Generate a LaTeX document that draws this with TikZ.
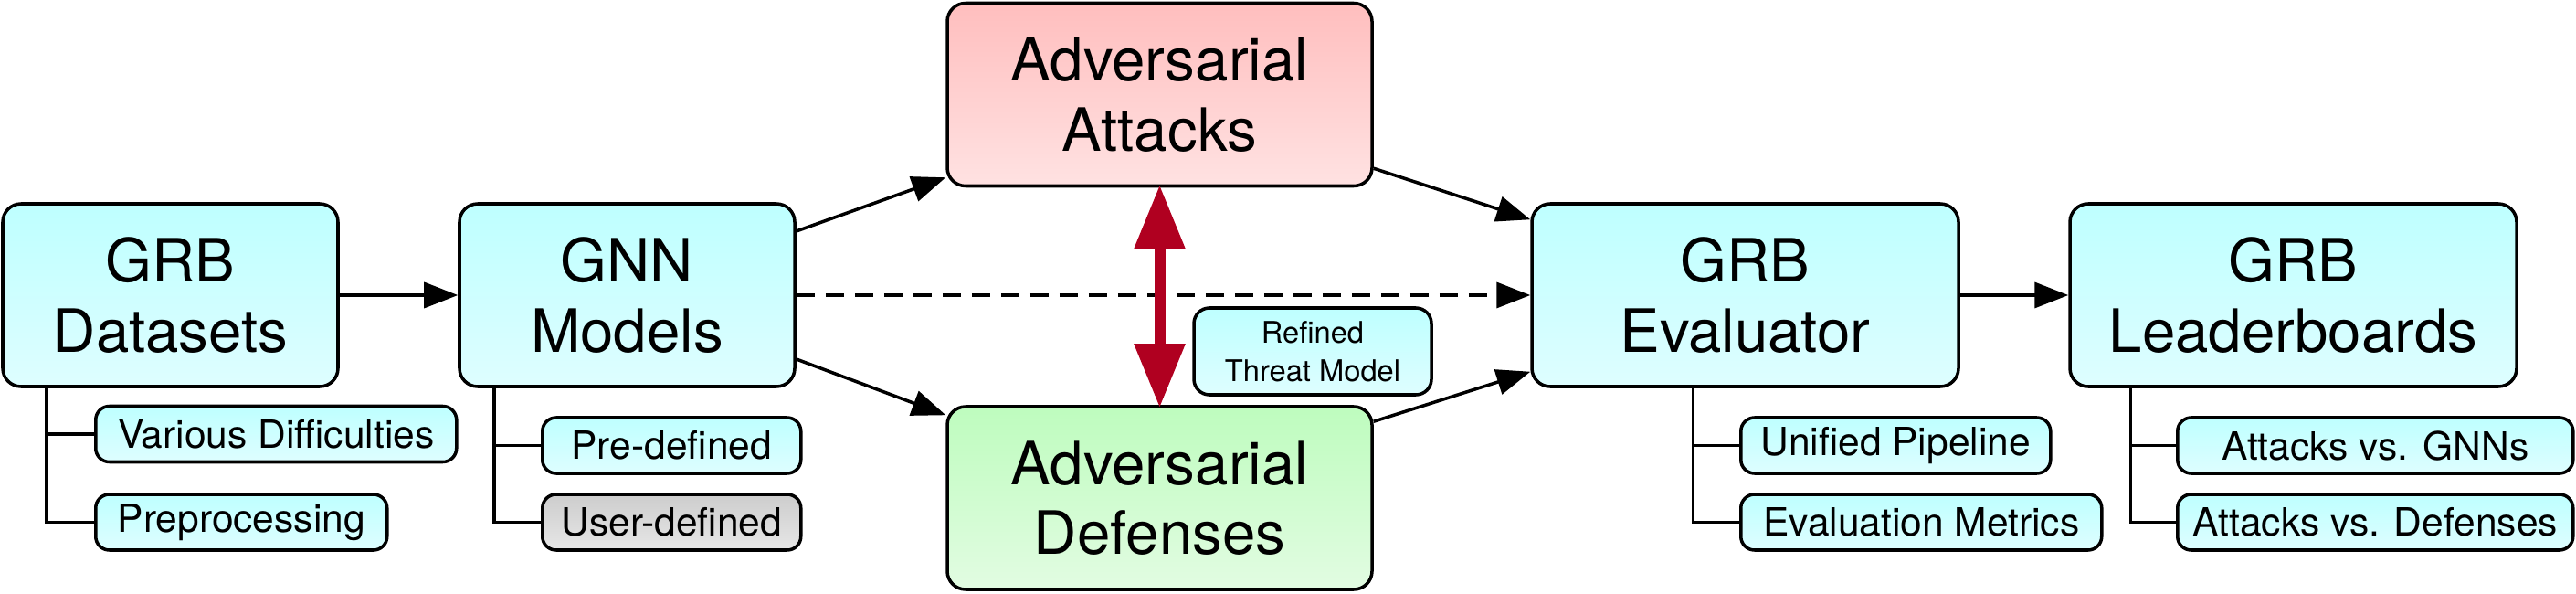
\documentclass[tikz,border=0pt]{standalone}
\usepackage{fontspec}
\setmainfont{TeX Gyre Heros}
\usetikzlibrary{arrows.meta,calc}

\definecolor{cyanA}{RGB}{190,255,255}
\definecolor{cyanB}{RGB}{222,254,255}
\definecolor{pinkA}{RGB}{255,190,190}
\definecolor{pinkB}{RGB}{255,226,226}
\definecolor{greenA}{RGB}{190,252,190}
\definecolor{greenB}{RGB}{226,252,226}
\definecolor{grayA}{RGB}{205,205,205}
\definecolor{grayB}{RGB}{230,230,230}
\definecolor{threatred}{RGB}{176,0,32}

\tikzset{
	bigbox/.style={draw, line width=1pt, rounded corners=0.2cm, minimum height=2cm,
		align=center, inner sep=0pt, font=\fontsize{18.6}{21.8}\selectfont},
	smallbox/.style={draw, line width=1pt, rounded corners=0.15cm, minimum height=0.61cm,
		anchor=west, inner sep=0pt, font=\fontsize{12.1}{13}\selectfont},
	threatbox/.style={draw, line width=1pt, rounded corners=0.17cm, minimum width=2.6cm,
		minimum height=0.95cm, align=center, inner sep=0pt, font=\fontsize{9.3}{11.9}\selectfont},
	cyanfill/.style={top color=cyanA, bottom color=cyanB},
	pinkfill/.style={top color=pinkA, bottom color=pinkB},
	greenfill/.style={top color=greenA, bottom color=greenB},
	grayfill/.style={top color=grayA, bottom color=grayB},
	flow/.style={line width=1pt, -{Triangle[length=0.37cm,width=0.28cm]}},
	tree/.style={line width=1pt},
	twoway/.style={draw=threatred, fill=threatred, line width=0.12cm,
		{Triangle[length=0.7cm,width=0.53cm]}-{Triangle[length=0.7cm,width=0.53cm]},
		shorten <=-0.03cm, shorten >=-0.03cm},
}

\begin{document}
\begin{tikzpicture}
			%%%%% START %%%%%
			\useasboundingbox (0,0) rectangle (28.2,6.49);
			
			% main stages
			\node[bigbox, cyanfill, minimum width=3.67cm] (ds) at (1.865,3.26) {GRB\\Datasets};
			\node[bigbox, cyanfill, minimum width=3.67cm] (gnn) at (6.865,3.26) {GNN\\Models};
			\node[bigbox, pinkfill, minimum width=4.65cm] (atk) at (12.695,5.455) {Adversarial\\Attacks};
			\node[bigbox, greenfill, minimum width=4.65cm] (def) at (12.695,1.04) {Adversarial\\Defenses};
			\node[bigbox, cyanfill, minimum width=4.67cm] (eva) at (19.105,3.26) {GRB\\Evaluator};
			\node[bigbox, cyanfill, minimum width=4.89cm] (lb) at (25.105,3.26) {GRB\\Leaderboards};
			\node[threatbox, cyanfill] (thr) at (14.37,2.645) {Refined\\Threat Model};
			
			% sub items
			\node[smallbox, cyanfill, minimum width=3.95cm] (vd) at (1.03,1.74) {Various Difficulties};
			\node[smallbox, cyanfill, minimum width=3.19cm] (pp) at (1.03,0.775) {Preprocessing};
			\node[smallbox, cyanfill, minimum width=2.83cm] (pd) at (5.92,1.615) {Pre-defined};
			\node[smallbox, grayfill, minimum width=2.83cm] (ud) at (5.92,0.775) {User-defined};
			\node[smallbox, cyanfill, minimum width=3.39cm] (up) at (19.04,1.615) {Unified Pipeline};
			\node[smallbox, cyanfill, minimum width=3.95cm] (em) at (19.04,0.775) {Evaluation Metrics};
			\node[smallbox, cyanfill, minimum width=4.33cm] (avg) at (23.82,1.615) {Attacks vs. GNNs};
			\node[smallbox, cyanfill, minimum width=4.33cm] (avd) at (23.82,0.775) {Attacks vs. Defenses};
			
			% trees
			\coordinate (dsT) at ($(ds.south west)+(0.5,0)$);
			\coordinate (gnnT) at ($(gnn.south west)+(0.4,0)$);
			\coordinate (evaT) at ($(eva.south west)+(1.78,0)$);
			\coordinate (lbT) at ($(lb.south west)+(0.68,0)$);
			\draw[tree] (dsT) |- (pp.west);
			\draw[tree] (dsT |- vd.west) -- (vd.west);
			\draw[tree] (gnnT) |- (ud.west);
			\draw[tree] (gnnT |- pd.west) -- (pd.west);
			\draw[tree] (evaT) |- (em.west);
			\draw[tree] (evaT |- up.west) -- (up.west);
			\draw[tree] (lbT) |- (avd.west);
			\draw[tree] (lbT |- avg.west) -- (avg.west);
			
			% flow
			\draw[flow] (ds) -- (gnn);
			\draw[flow] ($(gnn.east)+(0,0.7)$) -- ($(atk.south west)+(0,0.11)$);
			\draw[flow] ($(gnn.east)+(0,-0.7)$) -- ($(def.north west)+(0,-0.11)$);
			\draw[flow, dash pattern=on 0.2cm off 0.12cm] (gnn) -- (eva);
			\draw[flow] ($(atk.south east)+(0,0.21)$) -- ($(eva.north west)+(0,-0.19)$);
			\draw[flow] ($(def.north east)+(0,-0.18)$) -- ($(eva.south west)+(0,0.18)$);
			\draw[flow] (eva) -- (lb);
			\draw[twoway] (atk.south) -- (def.north);
			
			%%%%% END %%%%%
\end{tikzpicture}
\end{document}
